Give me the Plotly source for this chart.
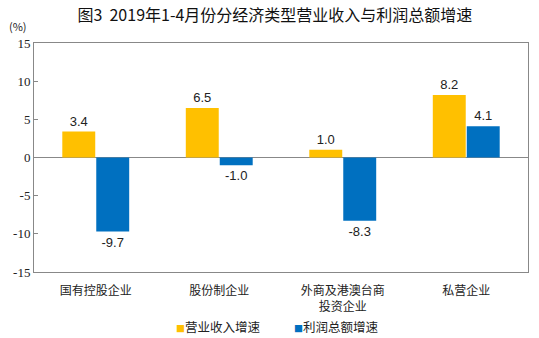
import plotly.graph_objects as go

categories = ["国有控股企业", "股份制企业", "外商及港澳台商<br>投资企业", "私营企业"]
revenue = [3.4, 6.5, 1.0, 8.2]
profit = [-9.7, -1.0, -8.3, 4.1]
tick_vals = [-15, -10, -5, 0, 5, 10, 15]
tick_text = [str(v) for v in tick_vals]
series_names = ["营业收入增速", "利润总额增速"]
colors = ["#FFC000", "#0070C0"]

cjk = "Noto Sans CJK SC"
serif = "'Liberation Serif', 'Times New Roman', serif"
fig = go.Figure()
for name, vals, col in zip(series_names, [revenue, profit], colors):
    fig.add_trace(go.Bar(x=categories, y=vals, name=name, marker_color=col,
                         marker_line_width=0, showlegend=False,
                         text=[f"{v:.1f}" for v in vals], textposition="outside",
                         textfont=dict(size=13, color="#222", family="Liberation Sans"),
                         cliponaxis=False))

fig.update_layout(
    width=539, height=338, margin=dict(l=34, r=11, t=43, b=66, autoexpand=False),
    paper_bgcolor="white", plot_bgcolor="white",
    barmode="group", bargap=0.45, bargroupgap=0.03,
    title=dict(text="图3  2019年1-4月份分经济类型营业收入与利润总额增速", x=0.51, xanchor="center",
               y=0.955, yanchor="middle", font=dict(size=16, family=cjk, color="#111")),
    showlegend=False,
    xaxis=dict(showline=True, linecolor="#888", mirror=True, ticks="", automargin=False,
               ticklabelstandoff=8,
               tickfont=dict(size=12, family=cjk, color="#222")),
    yaxis=dict(range=[-15, 15], tickvals=tick_vals, ticktext=tick_text, showline=True,
               linecolor="#888", mirror=True, automargin=False,
               ticks="inside", ticklen=4, tickcolor="#888", showgrid=False,
               zeroline=True, zerolinecolor="#888", zerolinewidth=1,
               tickfont=dict(size=13, family=serif, color="#222")),
)
fig.add_annotation(text="(%)", xref="paper", yref="paper", x=-0.055, y=1.075, xanchor="left",
                   yanchor="middle", showarrow=False, font=dict(size=11, family=cjk, color="#222"))
legend_x = [0.283, 0.522]
for name, col, lx in zip(series_names, colors, legend_x):
    fig.add_annotation(text=f"<span style='color:{col};font-size:9px'>■</span>{name}",
                       xref="paper", yref="paper", x=lx, y=-0.24, xanchor="left", yanchor="middle",
                       showarrow=False, font=dict(size=12.5, family=cjk, color="#222"))
fig.write_html("out.html")
